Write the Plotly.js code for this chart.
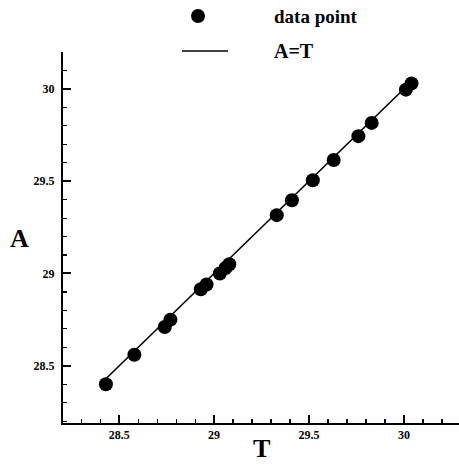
<!DOCTYPE html>
<html>
<head>
<meta charset="utf-8">
<script src="https://cdn.plot.ly/plotly-3.0.1.min.js"></script>
<style>
html, body { margin: 0; padding: 0; background: #fff; }
#chart { width: 459px; height: 464px; }
</style>
</head>
<body>
<div id="chart"></div>
<script>
// Data
var T = [28.43, 28.58, 28.74, 28.77, 28.93, 28.96, 29.03, 29.06, 29.08, 29.33, 29.41, 29.52, 29.63, 29.76, 29.83, 30.01, 30.04];
var A = [28.40, 28.56, 28.71, 28.75, 28.915, 28.94, 29.00, 29.03, 29.05, 29.316, 29.397, 29.505, 29.615, 29.744, 29.816, 29.996, 30.03];
var seriesNames = ["data point", "A=T"];
var tickVals = [28.5, 29, 29.5, 30];
var tickText = ["28.5", "29", "29.5", "30"];
var xTitle = "T";
var yTitle = "A";

var lineX = [Math.min.apply(null, T), Math.max.apply(null, T)];
var lineY = lineX.slice();

var serif = "Liberation Serif";

var traces = [
  {
    x: lineX, y: lineY, mode: "lines", name: seriesNames[1],
    line: { color: "#000", width: 1.6 }, showlegend: false, hoverinfo: "skip"
  },
  {
    x: T, y: A, mode: "markers", name: seriesNames[0],
    marker: { color: "#000", size: 14, symbol: "circle" }, showlegend: false
  }
];

var axisCommon = {
  showgrid: false, zeroline: false, showline: true, linecolor: "#000", linewidth: 2,
  ticks: "inside", ticklen: 8, tickwidth: 2, tickcolor: "#000",
  tickvals: tickVals, ticktext: tickText,
  tickfont: { family: serif, size: 12, color: "#000", weight: "bold" },
  minor: { dtick: 0.1, ticks: "inside", ticklen: 4, tickwidth: 1.2, tickcolor: "#000" },
  mirror: false
};

var layout = {
  width: 459, height: 464,
  margin: { l: 63, r: 0, t: 52, b: 41 },
  paper_bgcolor: "#fff", plot_bgcolor: "#fff",
  showlegend: false,
  xaxis: Object.assign({}, axisCommon, { range: [28.204, 30.29] }),
  yaxis: Object.assign({}, axisCommon, { range: [28.19, 30.2], ticklabelstandoff: 4 }),
  shapes: [
    { type: "circle", xref: "paper", yref: "paper", xsizemode: "pixel", ysizemode: "pixel",
      xanchor: 0.341, yanchor: 1.097, x0: -7, x1: 7, y0: -7, y1: 7,
      fillcolor: "#000", line: { color: "#000", width: 0 } },
    { type: "line", xref: "paper", yref: "paper", x0: 0.3005, x1: 0.4167, y0: 1.0027, y1: 1.0027,
      line: { color: "#000", width: 1.6 } }
  ],
  annotations: [
    { text: seriesNames[0], xref: "paper", yref: "paper", x: 0.528, y: 1.097, xanchor: "left", yanchor: "middle",
      showarrow: false, font: { family: serif, size: 19, color: "#000", weight: "bold" } },
    { text: seriesNames[1], xref: "paper", yref: "paper", x: 0.528, y: 1.0027, xanchor: "left", yanchor: "middle",
      showarrow: false, font: { family: serif, size: 20, color: "#000", weight: "bold" } },
    { text: yTitle, xref: "paper", yref: "paper", x: -0.1086, y: 0.498, xanchor: "center", yanchor: "middle",
      showarrow: false, font: { family: serif, size: 26, color: "#000", weight: "bold" } },
    { text: xTitle, xref: "paper", yref: "paper", x: 0.5, y: -0.068, xanchor: "center", yanchor: "middle",
      showarrow: false, font: { family: serif, size: 26, color: "#000", weight: "bold" } }
  ]
};

Plotly.newPlot("chart", traces, layout, { staticPlot: true, displayModeBar: false });
</script>
</body>
</html>
